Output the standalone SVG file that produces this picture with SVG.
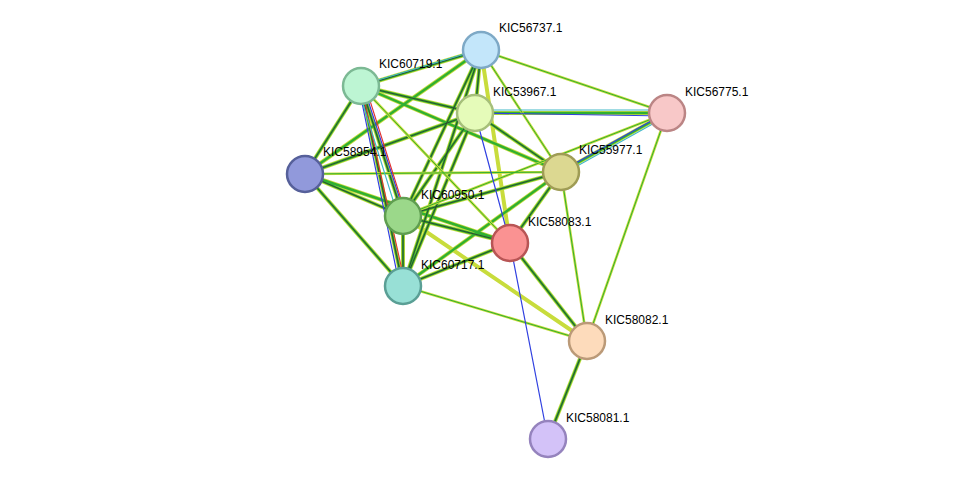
<svg xmlns="http://www.w3.org/2000/svg" width="976" height="485" viewBox="0 0 976 485">
<style>
.y{stroke:#c8dc3c;stroke-width:4;fill:none}
.g{stroke:#30b030;stroke-width:2.4;fill:none}
.k{stroke:#304030;stroke-width:0.9;fill:none}
.yl{stroke:#c8dc3c;stroke-width:2.6;fill:none}
.gl{stroke:#30b030;stroke-width:1;fill:none}
.b{stroke:#3040e0;stroke-width:1.2;fill:none}
.c{stroke:#40b8c8;stroke-width:1.1;fill:none}
.r{stroke:#e03030;stroke-width:1.1;fill:none}
.n{stroke-width:2.5}
text{font-family:"Liberation Sans",Arial,sans-serif;font-size:12px;fill:#000}
</style>
<rect width="976" height="485" fill="#fff"/>
<g id="edges">
<path class="y" d="M481 50L361 86M481 50L475 113M481 50L305 174M481 50L403 216M481 50L510 243M481 50L403 286M361 86L475 113M361 86L305 174M361 86L561 172M361 86L403 216M361 86L403 286M475 113L305 174M475 113L561 172M475 113L403 216M475 113L403 286M475 113L667 113M305 174L403 216M305 174L403 286M305 174L510 243M561 172L403 216M561 172L510 243M561 172L403 286M561 172L667 113M403 216L510 243M403 216L403 286M510 243L403 286M510 243L587 341M587 341L548 439M403 216L587 341"/>
<path class="g" d="M481 50L361 86M481 50L475 113M481 50L305 174M481 50L403 216M481 50L403 286M361 86L475 113M361 86L305 174M361 86L561 172M361 86L403 216M361 86L403 286M475 113L305 174M475 113L561 172M475 113L403 216M475 113L403 286M475 113L667 113M305 174L403 216M305 174L403 286M561 172L403 216M561 172L510 243M561 172L667 113M403 216L510 243M403 216L403 286M510 243L403 286M510 243L587 341M587 341L548 439M305 174L510 243M561 172L403 286"/>
<path class="k" d="M481 50L361 86M481 50L475 113M481 50L403 216M481 50L403 286M361 86L475 113M361 86L305 174M361 86L403 216M361 86L403 286M475 113L305 174M475 113L561 172M475 113L403 216M475 113L403 286M305 174L403 216M305 174L403 286M561 172L403 216M561 172L510 243M403 216L510 243M403 216L403 286M510 243L403 286M510 243L587 341M587 341L548 439"/>
<path class="yl" d="M481 50L667 113M305 174L561 172M403 286L587 341M667 113L587 341M561 172L587 341M481 50L561 172M361 86L510 243M403 216L667 113"/>
<path class="gl" d="M481 50L667 113M305 174L561 172M403 286L587 341M667 113L587 341M561 172L587 341M481 50L561 172M361 86L510 243M403 216L667 113"/>
<path class="b" d="M475 113L510 243M510 243L548 439M563 170L669 111M364 88L406 218M359 88L400 288M475 113L667 116"/>
<path class="r" d="M366 88L407 218M362 90L406 288"/>
<path class="c" d="M475 110L667 110M561 175L667 116M358 88L398 216M478 50L358 86"/>
</g>
<g id="n56737"><circle class="n" cx="481" cy="50" r="18" fill="#c3e6fa" stroke="#7ea9c6"/><text x="499" y="32">KIC56737.1</text></g>
<g id="n60719"><circle class="n" cx="361" cy="86" r="18" fill="#bdf5d3" stroke="#7cb994"/><text x="379" y="68">KIC60719.1</text></g>
<g id="n53967"><circle class="n" cx="475" cy="113" r="18" fill="#e5fbb9" stroke="#a6bf7a"/><text x="493" y="96">KIC53967.1</text></g>
<g id="n56775"><circle class="n" cx="667" cy="113" r="18" fill="#f8c8c8" stroke="#bb8585"/><text x="685" y="96">KIC56775.1</text></g>
<g id="n58954"><circle class="n" cx="305" cy="174" r="18" fill="#9199db" stroke="#56609a"/><text x="323" y="156">KIC58954.1</text></g>
<g id="n55977"><circle class="n" cx="561" cy="172" r="18" fill="#dcd891" stroke="#9f9c55"/><text x="579" y="154">KIC55977.1</text></g>
<g id="n60950"><circle class="n" cx="403" cy="216" r="18" fill="#9bd88a" stroke="#5f9e50"/><text x="421" y="199">KIC60950.1</text></g>
<g id="n58083"><circle class="n" cx="510" cy="243" r="18" fill="#fa9292" stroke="#b85555"/><text x="528" y="226">KIC58083.1</text></g>
<g id="n60717"><circle class="n" cx="403" cy="286" r="18" fill="#98e0d6" stroke="#5a9f95"/><text x="421" y="269">KIC60717.1</text></g>
<g id="n58082"><circle class="n" cx="587" cy="341" r="18" fill="#fddbbb" stroke="#bb9a78"/><text x="605" y="324">KIC58082.1</text></g>
<g id="n58081"><circle class="n" cx="548" cy="439" r="18" fill="#d3c2f8" stroke="#9583bd"/><text x="566" y="422">KIC58081.1</text></g>
</svg>
